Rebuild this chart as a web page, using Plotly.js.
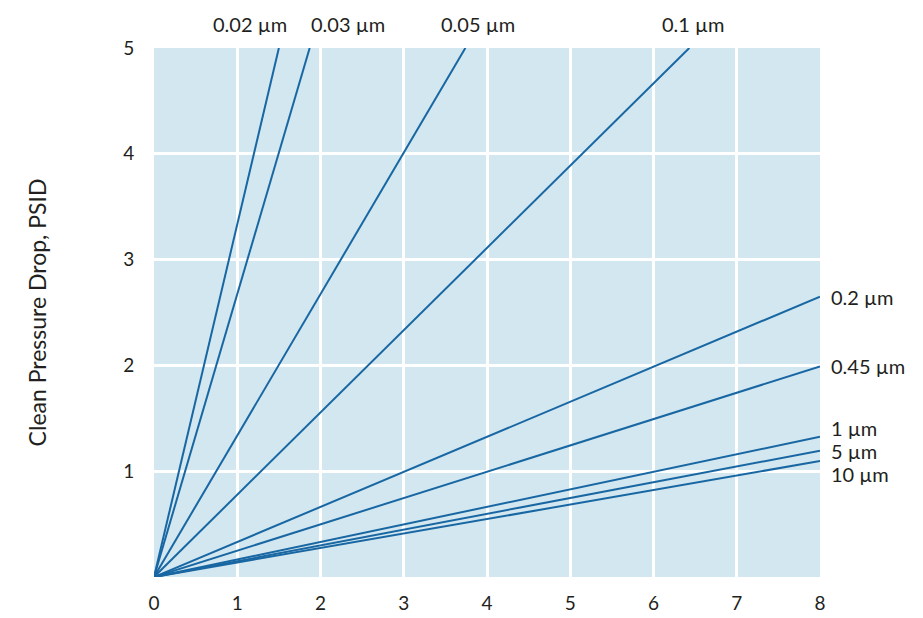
<!DOCTYPE html>
<html><head><meta charset="utf-8">
<script src="https://cdn.plot.ly/plotly-3.0.1.min.js"></script>
<style>html,body{margin:0;padding:0;background:#fff}#chart{width:923px;height:618px}</style>
</head><body><div id="chart"></div>
<script>
// Pore-size series: each line runs from origin to its end point
const seriesNames = ["0.02 µm","0.03 µm","0.05 µm","0.1 µm","0.2 µm","0.45 µm","1 µm","5 µm","10 µm"];
const endX = [1.50, 1.87, 3.74, 6.43, 8, 8, 8, 8, 8];
const endY = [5, 5, 5, 5, 2.65, 1.99, 1.326, 1.194, 1.096];
// label positions (data coords)
const labelX = [1.15, 2.33, 3.89, 6.47, 8, 8, 8, 8, 8];
const labelY = [5, 5, 5, 5, 2.65, 1.99, 1.41, 1.19, 0.97];
const xTicks = [0,1,2,3,4,5,6,7,8];
const yTicks = [1,2,3,4,5];

const lineColor = "#1867a3";
const textColor = "#231f20";
const fontFam = "Lato, 'Open Sans', sans-serif";

const traces = seriesNames.map((n,i)=>({
  type:"scatter", mode:"lines", name:n,
  x:[0,endX[i]], y:[0,endY[i]],
  line:{color:lineColor,width:2}, hoverinfo:"skip", showlegend:false
}));

const annotations = seriesNames.map((n,i)=>{
  const top = endY[i] >= 5;
  return top ? {
    x:labelX[i], y:labelY[i], xref:"x", yref:"y", text:n, showarrow:false,
    xanchor:"center", yanchor:"bottom", yshift:10,
    font:{family:fontFam,size:20,color:textColor}
  } : {
    x:labelX[i], y:labelY[i], xref:"x", yref:"y", text:n, showarrow:false,
    xanchor:"left", yanchor:"middle", xshift:9,
    font:{family:fontFam,size:20,color:textColor}
  };
});

const layout = {
  width:923, height:618,
  margin:{l:154, r:103, t:48, b:41},
  paper_bgcolor:"#ffffff", plot_bgcolor:"#d3e7f0",
  font:{family:fontFam,size:19,color:textColor},
  xaxis:{range:[0,8], tickvals:xTicks, ticktext:xTicks.map(String), showgrid:true,
    gridcolor:"#ffffff", gridwidth:3, zeroline:false, showline:false,
    ticks:"outside", ticklen:9, tickcolor:"rgba(0,0,0,0)", fixedrange:true},
  yaxis:{range:[0,5], tickvals:yTicks, ticktext:yTicks.map(String), showgrid:true,
    gridcolor:"#ffffff", gridwidth:3, zeroline:false, showline:false,
    ticks:"outside", ticklen:15, tickcolor:"rgba(0,0,0,0)", fixedrange:true,
    title:{text:"Clean Pressure Drop, PSID", standoff:70, font:{family:fontFam,size:23,color:textColor}}},
  annotations:annotations,
  showlegend:false
};
Plotly.newPlot("chart", traces, layout, {displayModeBar:false, staticPlot:true});
</script></body></html>
